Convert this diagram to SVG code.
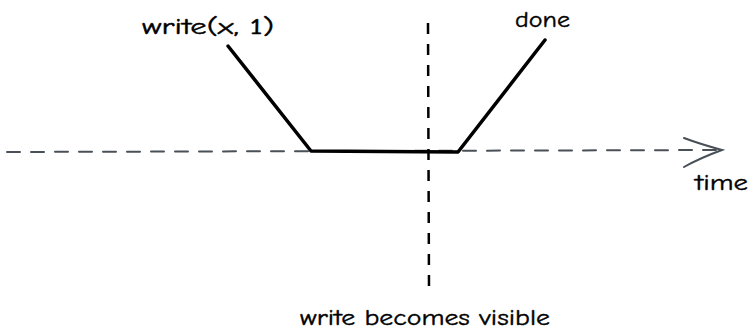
<svg xmlns="http://www.w3.org/2000/svg" width="750" height="334" viewBox="0 0 750 334">
<style>
.lbl{font-family:"Comic Neue","Liberation Sans",sans-serif;font-size:22px;fill:#000;stroke:#000;stroke-width:0.4}
.axis{stroke:#495057;stroke-width:2;fill:none;stroke-linecap:round}
</style>
<rect width="750" height="334" fill="#fff"/>
<g id="connectors">
<path class="axis" d="M7 152 L720 150" stroke-dasharray="13 11"/>
<path class="axis" d="M684 138 Q700 144 722 150 Q700 158 684 167"/>
<path d="M428 23 L429 290" stroke="#000" stroke-width="2.5" stroke-dasharray="11 10" fill="none"/>
<path d="M228 46 L311 151 L458 152 L545 40" stroke="#000" stroke-width="3.5" fill="none" stroke-linejoin="round" stroke-linecap="round"/>
</g>
<g id="label-write"><text class="lbl" x="142" y="34" textLength="132" lengthAdjust="spacingAndGlyphs">write(x, 1)</text></g>
<g id="label-done"><text class="lbl" x="515" y="27" textLength="55" lengthAdjust="spacingAndGlyphs">done</text></g>
<g id="label-time"><text class="lbl" x="695" y="190" textLength="53" lengthAdjust="spacingAndGlyphs">time</text></g>
<g id="label-visible"><text class="lbl" x="300" y="325" textLength="250" lengthAdjust="spacingAndGlyphs">write becomes visible</text></g>
</svg>
